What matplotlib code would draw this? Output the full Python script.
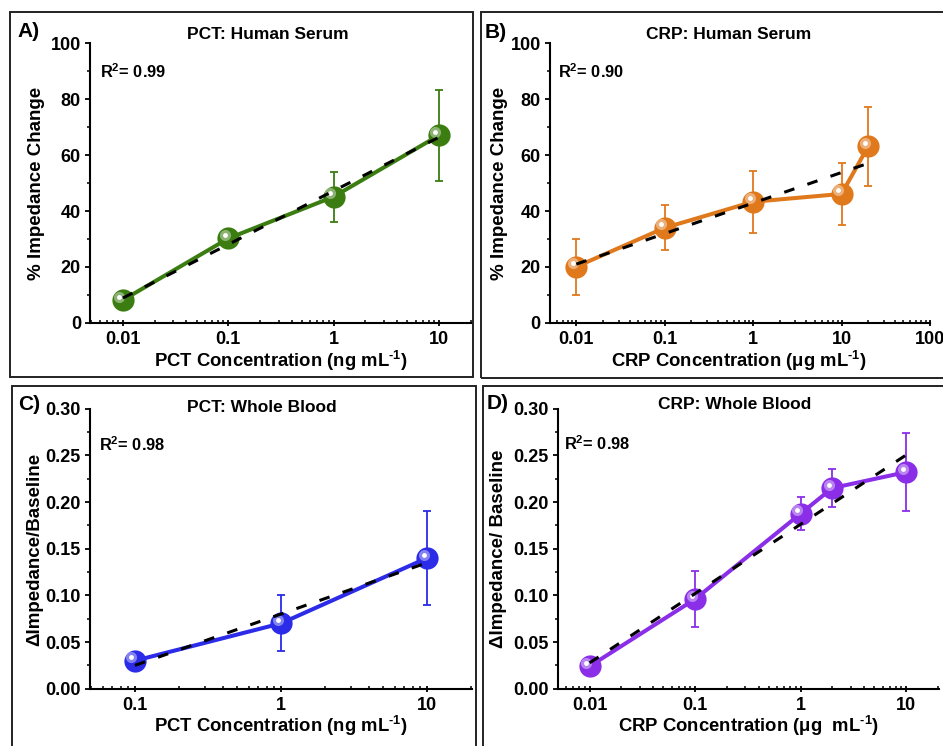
import numpy as np
import matplotlib
matplotlib.use("Agg")
import matplotlib.pyplot as plt
from matplotlib import ticker, transforms
from matplotlib.patches import Rectangle
from matplotlib.colors import to_rgb

plt.rcParams['font.family'] = ['Liberation Sans', 'DejaVu Sans']
plt.rcParams['font.weight'] = 'bold'
plt.rcParams['mathtext.fontset'] = 'custom'
plt.rcParams['mathtext.rm'] = 'Liberation Sans:bold'
plt.rcParams['mathtext.bf'] = 'Liberation Sans:bold'
plt.rcParams['mathtext.it'] = 'Liberation Sans:bold'
plt.rcParams['mathtext.default'] = 'bf'

# ---------------- data ----------------
pct_serum_x = [0.01, 0.1, 1, 10]
pct_serum_y = [8.2, 30.2, 45.1, 67.0]
pct_serum_err = [1.5, 1.5, 9.0, 16.2]

crp_serum_x = [0.01, 0.1, 1, 10, 20]
crp_serum_y = [20.1, 34.0, 43.3, 46.1, 63.1]
crp_serum_err = [10.0, 8.0, 11.0, 11.0, 14.0]

pct_blood_x = [0.1, 1, 10]
pct_blood_y = [0.030, 0.070, 0.140]
pct_blood_err = [0.003, 0.030, 0.050]

crp_blood_x = [0.01, 0.1, 1, 2, 10]
crp_blood_y = [0.024, 0.096, 0.1875, 0.215, 0.232]
crp_blood_err = [0.003, 0.030, 0.0175, 0.020, 0.042]

titles = ["PCT: Human Serum", "CRP: Human Serum", "PCT: Whole Blood", "CRP: Whole Blood"]
r2_labels = ["0.99", "0.90", "0.98", "0.98"]
panel_letters = ["A)", "B)", "C)", "D)"]
sup = r"$^{\text{-1}}$)"
xlabels = ["PCT Concentration (ng mL" + sup,
           "CRP Concentration (μg mL" + sup,
           "PCT Concentration (ng mL" + sup,
           "CRP Concentration (μg  mL" + sup]
ylabels = ["% Impedance Change", "% Impedance Change",
           "ΔImpedance/Baseline", "ΔImpedance/ Baseline"]
xtick_vals = [[0.01, 0.1, 1, 10], [0.01, 0.1, 1, 10, 100],
              [0.1, 1, 10], [0.01, 0.1, 1, 10]]
xtick_labels = [["0.01", "0.1", "1", "10"], ["0.01", "0.1", "1", "10", "100"],
                ["0.1", "1", "10"], ["0.01", "0.1", "1", "10"]]
serum_yticks = [0, 20, 40, 60, 80, 100]
blood_yticks = [0.00, 0.05, 0.10, 0.15, 0.20, 0.25, 0.30]

colors = ['#3c7d12', '#e0781c', '#2b2be8', '#8a2ee8']

# ---------------- layout ----------------
W, H = 943, 746
fig = plt.figure(figsize=(W / 100, H / 100), dpi=100)

def px_rect(l, t, r, b):
    return [l / W, 1 - b / H, (r - l) / W, (b - t) / H]

axes_px = [(90, 43, 471, 323), (549.7, 43, 930, 323),
           (90, 408.7, 472, 688.7), (558, 408.7, 938.7, 688.7)]
xlims = [(10 ** -2.313, 10 ** 1.305), (10 ** -2.301, 10 ** 2.0),
         (10 ** -1.308, 10 ** 1.308), (10 ** -2.300, 10 ** 1.31)]

# panel boxes
boxes = [(10, 12, 473, 377), (481, 12, 948, 378), (12, 386, 476, 752), (483, 386, 948, 752)]
for (l, t, r, b) in boxes:
    fig.add_artist(Rectangle((l / W, 1 - b / H), (r - l) / W, (b - t) / H,
                             transform=fig.transFigure, fill=False,
                             edgecolor='#222222', linewidth=1.4))

def ftext(x, y, s, **kw):
    fig.text(x / W, 1 - y / H, s, **kw)

datasets = [(pct_serum_x, pct_serum_y, pct_serum_err),
            (crp_serum_x, crp_serum_y, crp_serum_err),
            (pct_blood_x, pct_blood_y, pct_blood_err),
            (crp_blood_x, crp_blood_y, crp_blood_err)]

title_pos = [(268, 39), (728.7, 39), (262, 412), (735, 409)]
r2_pos = [(100, 77.7), (558, 77.7), (99, 451), (564, 449.7)]
letter_pos = [(17, 37), (485, 37.5), (18, 409.7), (487, 409)]
ylabel_pos = [(37, 183), (500, 183), (35, 549), (499, 549)]
xlabel_pos = [(281, 361), (739, 361), (281, 726), (748, 726)]

for i, (x, y, e) in enumerate(datasets):
    ax = fig.add_axes(px_rect(*axes_px[i]))
    c = colors[i]
    ax.set_xscale('log')
    ax.set_xlim(*xlims[i])
    if i < 2:
        ax.set_ylim(0, 100)
        ax.yaxis.set_major_locator(ticker.FixedLocator(serum_yticks))
        ax.yaxis.set_major_formatter(ticker.FixedFormatter([str(v) for v in serum_yticks]))
        ax.yaxis.set_minor_locator(ticker.MultipleLocator(10))
    else:
        ax.set_ylim(0, 0.30)
        ax.yaxis.set_major_locator(ticker.FixedLocator(blood_yticks))
        ax.yaxis.set_major_formatter(ticker.FixedFormatter(["%.2f" % v for v in blood_yticks]))
        ax.yaxis.set_minor_locator(ticker.MultipleLocator(0.025))
    ax.xaxis.set_major_locator(ticker.FixedLocator(xtick_vals[i]))
    ax.xaxis.set_major_formatter(ticker.FixedFormatter(xtick_labels[i]))
    ax.xaxis.set_minor_locator(ticker.LogLocator(base=10, subs=np.arange(2, 10), numticks=20))
    ax.xaxis.set_minor_formatter(ticker.NullFormatter())

    for s in ['top', 'right']:
        ax.spines[s].set_visible(False)
    for s in ['left', 'bottom']:
        ax.spines[s].set_linewidth(1.5)
    ax.tick_params(axis='y', which='major', direction='out', length=3.5, width=1.3,
                   labelsize=13, pad=3)
    ax.tick_params(axis='y', which='minor', direction='out', length=2, width=1.1)
    ax.tick_params(axis='x', which='major', direction='inout', length=5, width=1.3,
                   labelsize=13, pad=3.5)
    ax.tick_params(axis='x', which='minor', direction='in', length=2.5, width=1.1)
    for lab in ax.get_xticklabels() + ax.get_yticklabels():
        lab.set_fontweight('bold')

    # error bars
    ax.errorbar(x, y, yerr=e, fmt='none', ecolor=c, elinewidth=1.3,
                capsize=2.6, capthick=1.3, zorder=2)
    # connecting line
    ax.plot(x, y, '-', color=c, lw=2.9, zorder=3, solid_capstyle='butt')
    # sphere markers
    ax.plot(x, y, 'o', ms=16, color=c, mec=c, mew=0, zorder=4)
    rgb = np.array(to_rgb(c))
    light = tuple(rgb * 0.45 + 0.55)
    off = transforms.offset_copy(ax.transData, fig=fig, x=-3.5, y=3.5, units='dots')
    ax.plot(x, y, 'o', ms=8, color=light, mew=0, alpha=0.75, zorder=5, transform=off)
    ax.plot(x, y, 'o', ms=3.5, color='white', mew=0, zorder=6, transform=off)

    # linear fit in log x
    lx = np.log10(x)
    k, b = np.polyfit(lx, y, 1)
    xf = np.array([min(x), max(x)])
    ax.plot(xf, k * np.log10(xf) + b, color='black', lw=2.2, dashes=(3.5, 4.5),
            zorder=7, dash_capstyle='butt')

    ftext(*title_pos[i], titles[i], ha='center', va='baseline', fontsize=12.5, fontweight='bold')
    ftext(*r2_pos[i], r"R$^{2}$= " + r2_labels[i], ha='left', va='baseline', fontsize=11.8,
          fontweight='bold')
    ftext(*letter_pos[i], panel_letters[i], ha='left', va='baseline', fontsize=15,
          fontweight='bold')
    ftext(*ylabel_pos[i], ylabels[i], ha='center', va='center', rotation=90, fontsize=13.5,
          fontweight='bold')
    ftext(*xlabel_pos[i], xlabels[i], ha='center', va='center', fontsize=13.3,
          fontweight='bold')

fig.savefig('out.png', dpi=100, facecolor='white')
